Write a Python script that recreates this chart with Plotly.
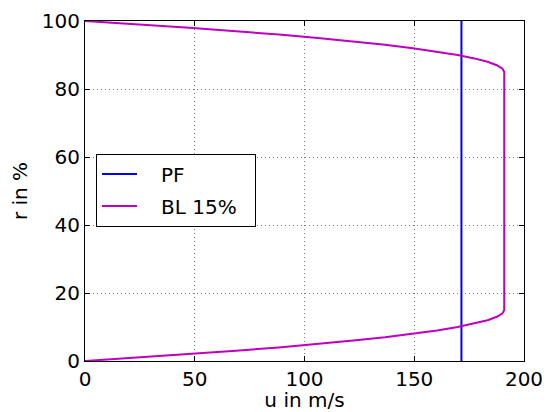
import plotly.graph_objects as go

# Plug flow (PF) velocity profile
pf_r = [0, 100]
pf_u = [171.5, 171.5]

# Boundary layer profile (BL 15%)
bl_r = [0, 1, 2, 3, 4, 5, 6, 7, 8, 9, 10, 11, 12, 13, 14, 15,
        85, 86, 87, 88, 89, 90, 91, 92, 93, 94, 95, 96, 97, 98, 99, 100]
bl_u = [0, 24.6, 47.5, 68.8, 88.3, 106.1, 122.2, 136.7, 149.4, 160.4, 169.8,
        177.4, 183.4, 187.6, 190.2, 191.0,
        191.0, 190.2, 187.6, 183.4, 177.4, 169.8, 160.4, 149.4, 136.7, 122.2,
        106.1, 88.3, 68.8, 47.5, 24.6, 0]

x_ticks = [0, 50, 100, 150, 200]
y_ticks = [0, 20, 40, 60, 80, 100]

font = dict(family="DejaVu Sans", size=20, color="black")
pad = "&nbsp;" * 3

fig = go.Figure()
fig.add_trace(go.Scatter(x=pf_u, y=pf_r, mode="lines", name=pad + "PF",
                         legendgroup="a",
                         line=dict(color="#0000ff", width=2)))
fig.add_trace(go.Scatter(x=bl_u, y=bl_r, mode="lines",
                         name=pad + "BL 15%&nbsp;&nbsp;",
                         legendgroup="b",
                         line=dict(color="#bf00bf", width=2)))

axis_common = dict(
    showline=True, linecolor="black", linewidth=1, mirror="ticks",
    ticks="inside", ticklen=5, tickcolor="black",
    showgrid=True, gridcolor="rgba(0,0,0,0.5)", griddash="1px,3px", gridwidth=1,
    zeroline=False, tickfont=font, automargin=False,
)

fig.update_xaxes(range=[0, 200], tickvals=x_ticks,
                 title=dict(text="u in m/s", font=font, standoff=6),
                 ticklabelstandoff=0,
                 **axis_common)
fig.update_yaxes(range=[0, 100], tickvals=y_ticks,
                 title=dict(text="r in %", font=font, standoff=10),
                 **axis_common)

# page body adds an 8px offset, so the figure is sized to fit the window
fig.update_layout(
    width=544, height=404,
    margin=dict(l=77, r=28, t=13, b=51),
    paper_bgcolor="white", plot_bgcolor="white",
    font=font,
    showlegend=True,
    legend=dict(x=0.025, y=0.61, xanchor="left", yanchor="top",
                bgcolor="white", bordercolor="black", borderwidth=1,
                font=font, tracegroupgap=3, itemwidth=35),
)

fig.write_html("out.html")
